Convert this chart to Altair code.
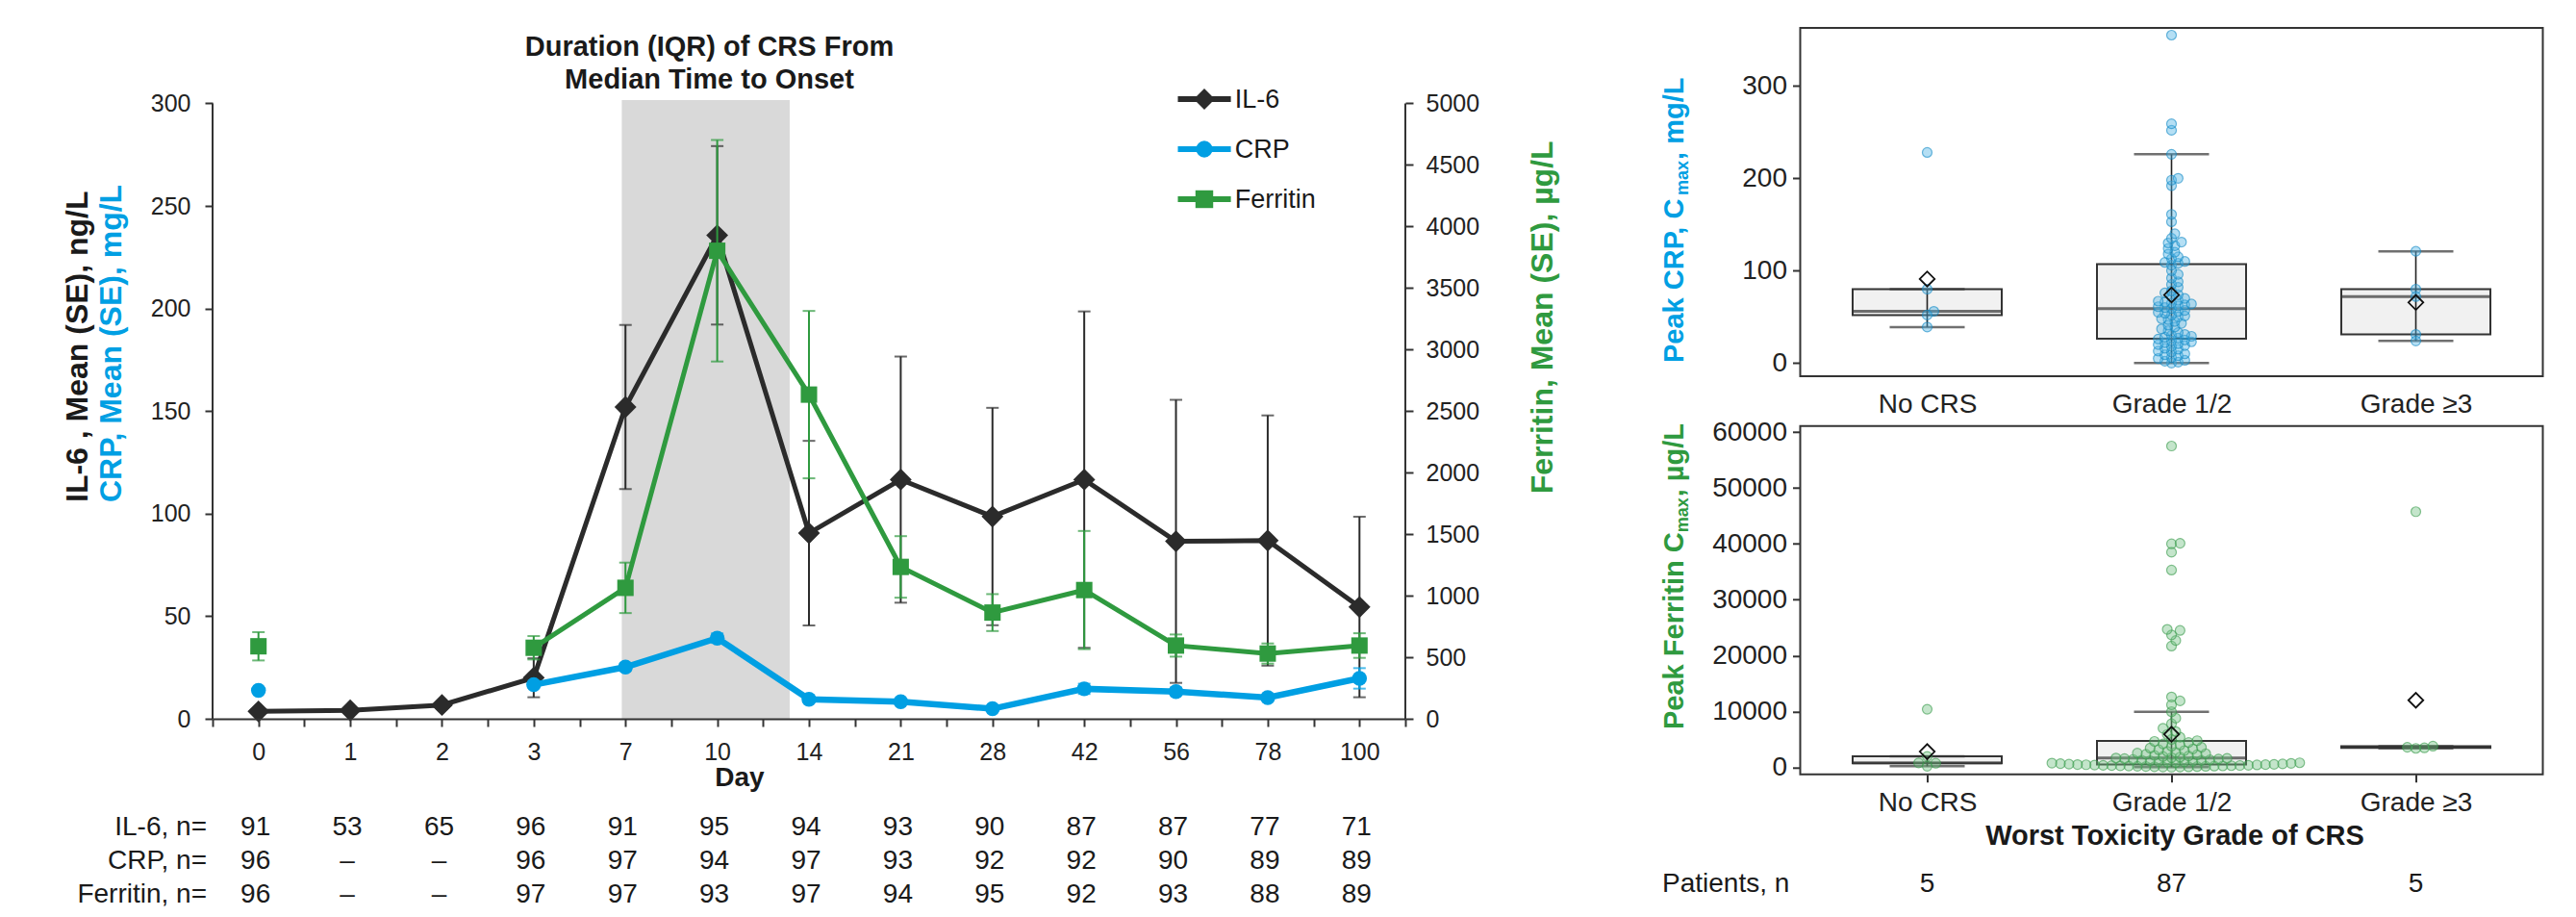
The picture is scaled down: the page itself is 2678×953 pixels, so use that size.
import altair as alt
import numpy as np
import pandas as pd

# ---------------- left panel data ----------------
days = ["0", "1", "2", "3", "7", "10", "14", "21", "28", "42", "56", "78", "100"]
il6_mean = [3.6, 4.1, 6.7, 20.0, 152.0, 235.7, 90.5, 116.6, 98.6, 116.6, 86.5, 86.9, 54.5]
il6_se = [1.0, 1.2, 1.5, 9.5, 40.0, 43.5, 45.0, 60.0, 53.0, 82.0, 69.0, 61.0, 44.0]
crp_mean = [13.8, None, None, 16.6, 25.2, 39.3, 9.5, 8.3, 4.9, 14.6, 13.3, 10.3, 19.7]
crp_se = [1.2, None, None, 1.5, 1.8, 2.3, 1.2, 1.1, 0.8, 2.5, 1.8, 1.5, 5.0]
fer_mean = [589, None, None, 577, 1064, 3803, 2634, 1234, 863, 1046, 595, 530, 595]
fer_se = [115, None, None, 95, 205, 900, 680, 250, 150, 480, 90, 82, 100]
il6_n = ["91", "53", "65", "96", "91", "95", "94", "93", "90", "87", "87", "77", "71"]
crp_n = ["96", "–", "–", "96", "97", "94", "97", "93", "92", "92", "90", "89", "89"]
fer_n = ["96", "–", "–", "97", "97", "93", "97", "94", "95", "92", "93", "88", "89"]
crs_window = [3.96, 5.79]  # IQR duration of CRS, in day-slot units

# ---------------- right panel data ----------------
grades = ["No CRS", "Grade 1/2", "Grade ≥3"]
patients_n = ["5", "87", "5"]
crp_no = [228, 80, 56, 52, 39]
crp_g12 = [0, 1, 2, 3, 5, 6, 8, 9, 10, 12, 13, 15, 16, 18, 19, 20, 21, 22, 23, 24, 25,
           26, 27,
           28, 29, 30, 31, 33, 35, 37, 39, 41, 43, 45, 47, 48, 50, 51, 52, 54, 55, 56, 57,
           59,
           60, 61, 62, 63, 64, 65, 66, 67, 68, 70, 72, 74, 76, 78, 82, 85, 88, 92, 96, 100,
           106, 108,
           109, 110, 113, 115, 118, 120, 124, 127, 130, 131, 135, 140, 153, 161, 192, 198,
           200, 226, 252, 259, 355]
crp_g3 = [121, 80, 72, 31, 24]
fer_no = [10400, 1960, 800, 740, 200]
fer_g12 = [40, 60, 80, 100, 120, 140, 160, 180, 200, 220, 240, 260, 280, 300, 320, 340,
           360, 380, 410, 440, 470,
           490, 510,
           540, 580, 620, 670, 720, 770, 820, 870, 930, 990, 1050, 1110, 1170, 1230, 1290,
           1350, 1420, 1490, 1560, 1620,
           1670,
           1750, 1850, 1950, 2050, 2150, 2250, 2350, 2450, 2550, 2700, 2850, 3000, 3150,
           3300, 3450, 3600, 3800, 4000, 4200, 4450,
           4650, 4780,
           5000, 5400, 5900, 6400, 7000, 7800, 8800, 9950, 11200, 11900, 12600, 21700,
           22700, 23700, 24500, 24700, 35300, 38500, 40000, 40100, 57500]
fer_g3 = [45750, 3800, 3600, 3500, 3400]

# ---------------- style ----------------
FONT = "Liberation Sans, Arial, Helvetica, sans-serif"
C_IL6 = "#2b2b2b"
C_CRP = "#009fe3"
C_FER = "#2f9a3f"
AXIS = "#333333"
TXT = "#1a1a1a"

LW, LH = 1240, 718
PPU_L = 639.5 / 300.0
Y_TOP = LH / PPU_L
FER_TOP = Y_TOP * 5000.0 / 300.0
idx = list(range(len(days)))

days_js = "[" + ",".join("'" + d + "'" for d in days) + "]"
x_axis = alt.Axis(values=[k / 2 for k in range(-1, 26)],
                  labelExpr="datum.value % 1 === 0 ? " + days_js + "[datum.value] : ''",
                  title=None, grid=False, tickSize=8, tickWidth=2, domainWidth=2,
                  labelFontSize=25, labelPadding=14, labelOverlap=False, labelFlush=False,
                  labelBound=False, zindex=1)
yl_axis = alt.Axis(values=list(range(0, 301, 50)), format="d", title=None, grid=False,
                   domain=False, tickSize=8, tickWidth=2, labelFontSize=25, labelPadding=15,
                   zindex=1)
yr_axis = alt.Axis(orient="right", values=list(range(0, 5001, 500)), format="d", title=None,
                   grid=False, domain=False, tickSize=8, tickWidth=2, labelFontSize=25,
                   labelPadding=13, zindex=1)
xs = alt.Scale(domain=[-0.5, 12.5], nice=False, zero=False)
ysL = alt.Scale(domain=[0, Y_TOP], nice=False, zero=False)
ysR = alt.Scale(domain=[0, FER_TOP], nice=False, zero=False)


def X(f="i"):
    return alt.X(f"{f}:Q", scale=xs, axis=x_axis)


def YL(f):
    return alt.Y(f"{f}:Q", scale=ysL, axis=yl_axis)


def YR(f):
    return alt.Y(f"{f}:Q", scale=ysR, axis=yr_axis)


one = pd.DataFrame({"z": [0]})


def label(text, x, y, size, color=TXT, weight="normal", align="center", angle=0,
          baseline="alphabetic"):
    return alt.Chart(pd.DataFrame({"t": [text]})).mark_text(
        fontSize=size, color=color, fontWeight=weight, align=align, angle=angle,
        baseline=baseline).encode(text="t:N", x=alt.value(x), y=alt.value(y))


def series(mean, se, color, shape, size, lw, Yf, start):
    df = pd.DataFrame({"i": idx, "mean": mean, "se": se}).dropna()
    df["lo"] = df["mean"] - df["se"]
    df["hi"] = df["mean"] + df["se"]
    df["connect"] = df["i"] >= start
    base = alt.Chart(df)
    return [
        base.mark_rule(color=color, strokeWidth=2).encode(x=X(), y=Yf("lo"), y2="hi:Q"),
        base.mark_tick(color=color, orient="horizontal", size=13, thickness=2).encode(
            x=X(), y=Yf("lo")),
        base.mark_tick(color=color, orient="horizontal", size=13, thickness=2).encode(
            x=X(), y=Yf("hi")),
        base.transform_filter("datum.connect").mark_line(color=color, strokeWidth=lw).encode(
            x=X(), y=Yf("mean")),
        base.mark_point(shape=shape, filled=True, size=size, color=color, opacity=1).encode(
            x=X(), y=Yf("mean")),
    ]


guard = alt.Chart(one).mark_rule(opacity=0, strokeWidth=0.01).encode(
    x=alt.value(-213), x2=alt.value(-213), y=alt.value(-21), y2=alt.value(-20))
band = alt.Chart(pd.DataFrame({"a": [crs_window[0]], "b": [crs_window[1]], "lo": [0],
                               "hi": [301.6]})).mark_rect(color="#d9d9d9").encode(
    x=X("a"), x2="b:Q", y=YL("lo"), y2="hi:Q")
ax_df = pd.DataFrame({"lo": [0], "hi": [300]})
yline_l = alt.Chart(ax_df).mark_rule(color=AXIS, strokeWidth=2).encode(
    x=alt.value(0), y=YL("lo"), y2="hi:Q")
yline_r = alt.Chart(ax_df).mark_rule(color=AXIS, strokeWidth=2).encode(
    x=alt.value(LW), y=YL("lo"), y2="hi:Q")

layersA = [guard, band, yline_l, yline_r]
layersA += series(il6_mean, il6_se, C_IL6, "diamond", 520, 5, YL, 0)
layersA += series(crp_mean, crp_se, C_CRP, "circle", 240, 6.5, YL, 3)

# titles and annotations
layersA += [
    label("Duration (IQR) of CRS From", 516.5, 29.3, 29, weight="bold"),
    label("Median Time to Onset", 516.5, 62.7, 29, weight="bold"),
    label("Day", 548, 787.7, 28, weight="bold"),
    label("IL-6 , Mean (SE), ng/L", -130, 493, 32, color=TXT, weight="bold", align="left",
          angle=270),
    label("CRP, Mean (SE), mg/L", -95, 493, 32, color=C_CRP, weight="bold", align="left",
          angle=270),
]
legend_items = [("IL-6", C_IL6, "diamond", 480), ("CRP", C_CRP, "circle", 300),
                ("Ferritin", C_FER, "square", 340)]
for k, (lab, col, shp, sz) in enumerate(legend_items):
    ly = 74 + 52 * k
    layersA.append(alt.Chart(one).mark_rule(color=col, strokeWidth=6).encode(
        x=alt.value(1003.5), x2=alt.value(1058.6), y=alt.value(ly), y2=alt.value(ly)))
    layersA.append(alt.Chart(one).mark_point(shape=shp, filled=True, size=sz, color=col,
                                             opacity=1).encode(x=alt.value(1031),
                                                               y=alt.value(ly)))
    layersA.append(label(lab, 1062.7, ly + 1, 27, align="left", baseline="middle"))

for r, (lab, vals) in enumerate([("IL-6, n=", il6_n), ("CRP, n=", crp_n),
                                 ("Ferritin, n=", fer_n)]):
    yb = 839 + 35 * r
    layersA.append(label(lab, -6, yb, 28, align="right"))
    layersA.append(alt.Chart(pd.DataFrame({"i": idx, "t": vals})).mark_text(
        fontSize=28, color=TXT, align="center", baseline="alphabetic", dx=-3).encode(
        x=X(), y=alt.value(yb), text="t:N"))

layersB = series(fer_mean, fer_se, C_FER, "square", 290, 5, YR, 3)
layersB.append(label("Ferritin, Mean (SE), µg/L", 1393, 484.3, 32, color=C_FER,
                     weight="bold", align="left", angle=270))

left = alt.layer(alt.layer(*layersA), alt.layer(*layersB)).resolve_scale(
    y="independent").properties(width=LW, height=LH)

# ---------------- right panels ----------------
BAND_PX = 772.0 / 3.0
AB = {" ": 278, ",": 278, "/": 278, "C": 722, "F": 611, "L": 611, "P": 667, "R": 722,
      "a": 556, "e": 556, "g": 611, "i": 278, "k": 556, "m": 889, "n": 611, "r": 389,
      "t": 333, "x": 556, "µ": 611}


def tw(s, size):
    return sum(AB.get(c, 556) for c in s) * size / 1000.0


def swarm(vals, ppu, step, thresh):
    order = np.argsort(np.asarray(vals, dtype=float), kind="stable")
    placed = []
    offs = [0.0] * len(vals)
    for j in order:
        y = vals[j] * ppu
        c = 0.0
        for k in range(400):
            c = ((k + 1) // 2) * step * (1 if k % 2 else -1)
            if all((c - px) ** 2 + (y - py) ** 2 >= thresh ** 2 for px, py in placed):
                break
        placed.append((c, y))
        offs[j] = c / BAND_PX
    return offs


def box_panel(groups, ppu, ydom, yvals, fill, stroke, xticks, title_parts, title_y,
              step, thresh, bottom=False):
    xsR = alt.Scale(domain=[-0.5, 2.5], nice=False, zero=False)
    g_js = "[" + ",".join("'" + g + "'" for g in grades) + "]"
    xax = alt.Axis(values=[0, 1, 2], labelExpr=g_js + "[datum.value]", title=None,
                   grid=False, domain=False, ticks=xticks, tickSize=8 if xticks else 0,
                   tickWidth=2, labelFontSize=28, labelPadding=8 if xticks else 15,
                   labelFlush=False, labelBound=False, labelOverlap=False)
    yax = alt.Axis(values=yvals, format="d", title=None, grid=False, domain=False,
                   tickSize=8, tickWidth=2, labelFontSize=28, labelPadding=6)
    ysc = alt.Scale(domain=ydom, nice=False, zero=False)

    def XR(f):
        return alt.X(f"{f}:Q", scale=xsR, axis=xax)

    def YRr(f):
        return alt.Y(f"{f}:Q", scale=ysc, axis=yax)

    rows, pts = [], []
    for gi, vals in enumerate(groups):
        v = np.asarray(vals, dtype=float)
        q1, med, q3 = np.percentile(v, [25, 50, 75])
        iqr = q3 - q1
        lw_ = v[v >= q1 - 1.5 * iqr].min()
        uw_ = v[v <= q3 + 1.5 * iqr].max()
        rows.append({"i": gi, "q1": q1, "med": med, "q3": q3, "lw": lw_, "uw": uw_,
                     "mean": v.mean()})
        offs = swarm(list(v), ppu, step, thresh)
        for val, o in zip(v, offs):
            pts.append({"i": gi, "v": val, "xp": gi + o})
    st = alt.Chart(pd.DataFrame(rows))
    pdf = alt.Chart(pd.DataFrame(pts))
    layers = [
        st.mark_bar(size=155, fill="#f1f1f1", stroke=AXIS, strokeWidth=2).encode(
            x=XR("i"), y=YRr("q1"), y2="q3:Q"),
        st.mark_rule(color="#222", strokeWidth=1.6).encode(x=XR("i"), y=YRr("lw"),
                                                           y2="uw:Q"),
        st.mark_tick(orient="horizontal", size=155, thickness=3, color=AXIS).encode(
            x=XR("i"), y=YRr("med")),
        st.mark_tick(orient="horizontal", size=78, thickness=2.5, color=AXIS).encode(
            x=XR("i"), y=YRr("lw")),
        st.mark_tick(orient="horizontal", size=78, thickness=2.5, color=AXIS).encode(
            x=XR("i"), y=YRr("uw")),
        pdf.mark_point(shape="circle", filled=True, size=100, fill=fill, fillOpacity=0.42,
                       stroke=stroke, strokeOpacity=0.6, strokeWidth=1.2).encode(
            x=XR("xp"), y=YRr("v")),
        st.mark_point(shape="diamond", filled=False, size=240, color="#111",
                      strokeWidth=1.8, opacity=1).encode(x=XR("i"), y=YRr("mean")),
    ]
    # vertical title with subscript
    (p1, p2, p3), color = title_parts
    y0 = title_y
    layers.append(label(p1, -121.5, y0, 29, color=color, weight="bold", align="left",
                        angle=270))
    y1 = y0 - tw(p1, 29)
    layers.append(label(p2, -116.5, y1, 18, color=color, weight="bold", align="left",
                        angle=270))
    y2 = y1 - tw(p2, 18) - 1
    layers.append(label(p3, -121.5, y2, 29, color=color, weight="bold", align="left",
                        angle=270))
    if bottom:
        layers.append(label("Worst Toxicity Grade of CRS", 389.5, 435.2, 29,
                            weight="bold"))
        layers.append(label("Patients, n", -143.5, 483.7, 28, align="left"))
        layers.append(alt.Chart(pd.DataFrame({"i": [0, 1, 2], "t": patients_n})).mark_text(
            fontSize=28, color=TXT, align="center", baseline="alphabetic").encode(
            x=XR("i"), y=alt.value(483.7), text="t:N"))
    return alt.layer(*layers)


crp_panel = box_panel([crp_no, crp_g12, crp_g3], 0.96, [-14.24, 362.8], [0, 100, 200, 300],
                      "#4fb3e4", "#1089c4", False,
                      (("Peak CRP, C", "max", ", mg/L"), C_CRP), 348,
                      3.5, 5.5).properties(
    width=772, height=362, view=alt.ViewBackground(stroke=AXIS, strokeWidth=2))

fer_panel = box_panel([fer_no, fer_g12, fer_g3], 0.0058083, [-1257, 61068],
                      list(range(0, 60001, 10000)), "#73c283", "#37994a", True,
                      (("Peak Ferritin C", "max", ", µg/L"), C_FER), 315.2,
                      4.5, 6.5, bottom=True).properties(
    width=772, height=362, view=alt.ViewBackground(stroke=AXIS, strokeWidth=2))

right = alt.vconcat(crp_panel, fer_panel, spacing=51.8, bounds="flush")

chart = alt.hconcat(left, right, spacing=410.5, bounds="flush").properties(
    padding=0).configure(font=FONT).configure_axis(
    labelFont=FONT, labelColor="#222", tickColor=AXIS, domainColor=AXIS).configure_text(
    font=FONT).configure_view(stroke=None)

chart.save("out.html", embed_options={"renderer": "svg", "actions": False})
